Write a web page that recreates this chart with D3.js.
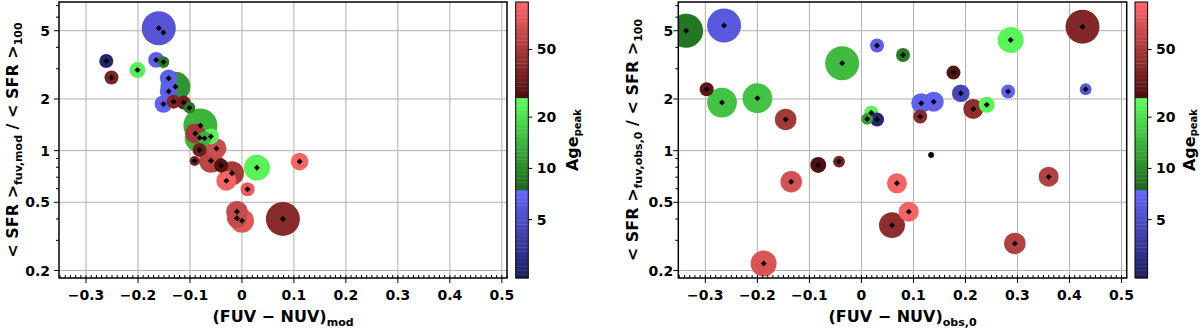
<!DOCTYPE html>
<html>
<head>
<meta charset="utf-8">
<script src="https://cdn.jsdelivr.net/npm/d3@7"></script>
<style>
  body { margin: 0; background: #fff; }
  text { font-family: "DejaVu Sans", sans-serif; font-weight: bold; }
</style>
</head>
<body>
<div id="chart"></div>
<script>
// left panel: model colour vs model SFR ratio
var modColour = [-0.160, -0.151, -0.261, -0.201, -0.251, -0.165, -0.151, -0.128, -0.141, -0.141, -0.151, -0.1315, -0.112, -0.101, -0.080, -0.0815, -0.0898, -0.072, -0.0596, -0.0815, -0.049, -0.091, -0.0596, -0.040, -0.0192, -0.030, 0.0288, 0.111, 0.0108, -0.0096, -0.0096, 0.0, 0.0788];
var modRatio  = [5.17, 4.88, 3.33, 2.95, 2.67, 3.38, 3.28, 2.36, 2.64, 2.21, 1.87, 1.93, 1.905, 1.78, 1.40, 1.19, 1.26, 1.18, 1.21, 1.01, 1.03, 0.871, 0.874, 0.818, 0.738, 0.668, 0.796, 0.863, 0.596, 0.441, 0.404, 0.39, 0.40];
var modMass   = [300, 51, 51, 66, 51, 66, 36, 230, 81, 81, 81, 51, 51, 36, 300, 230, 104, 51, 66, 51, 104, 26, 150, 51, 150, 104, 175, 81, 51, 120, 104, 150, 300];
var modAge    = [5.6, 5.6, 2.6, 23, 36, 6.5, 9, 11, 6.5, 6.5, 6.8, 38, 34, 9, 14, 14, 48, 14, 24, 33, 65, 36, 58, 28, 50, 88, 24, 90, 80, 62, 62, 75, 40];

// right panel: observed colour vs observed SFR ratio
var obsColour = [-0.337, -0.264, -0.037, 0.030, -0.2975, -0.268, -0.200, -0.1456, 0.019, 0.011, 0.030, -0.083, -0.043, -0.135, 0.0588, 0.0683, -0.188, 0.425, 0.287, 0.080, 0.177, 0.191, 0.282, 0.431, 0.115, 0.139, 0.215, 0.241, 0.113, 0.134, 0.360, 0.091, 0.295];
var obsRatio  = [5.0, 5.36, 3.23, 4.1, 2.28, 1.905, 2.02, 1.52, 1.665, 1.53, 1.52, 0.825, 0.863, 0.659, 0.368, 0.645, 0.22, 5.28, 4.42, 3.61, 2.85, 2.16, 2.21, 2.28, 1.89, 1.93, 1.75, 1.85, 1.58, 0.944, 0.705, 0.441, 0.288];
var obsMass   = [300, 300, 300, 51, 51, 230, 230, 120, 51, 36, 51, 66, 36, 120, 175, 104, 175, 300, 175, 51, 51, 81, 51, 36, 104, 104, 104, 66, 51, 9, 104, 104, 120];
var obsAge    = [8.6, 6, 15, 6.5, 30, 16, 16, 48, 24, 12, 2.6, 27, 35, 70, 42, 90, 72, 38, 24, 9, 28, 4.5, 6.8, 6, 6.8, 6.8, 42, 24, 40, 27, 55, 90, 55];

var xTicks = [-0.3, -0.2, -0.1, 0, 0.1, 0.2, 0.3, 0.4, 0.5];
var yTicks = [0.2, 0.5, 1, 2, 5];
var yMinor = [0.3, 0.4, 0.6, 0.7, 0.8, 0.9, 3, 4, 6, 7];
var ageTicks = [5, 10, 20, 50];

var ageSegments = [
    {lo: 2.27, hi: 7.6, dark: "#1c1c5e", light: "#6868ff"},
    {lo: 7.6, hi: 26, dark: "#1d681d", light: "#5cff5c"},
    {lo: 26, hi: 95, dark: "#4e0c0c", light: "#ff6868"}
];

function ageColour(a) {
    for (var i = 0; i < ageSegments.length; i++) {
        var s = ageSegments[i];
        if (a <= s.hi || i == ageSegments.length - 1) {
            var t = Math.log(a / s.lo) / Math.log(s.hi / s.lo);
            t = Math.max(0, Math.min(1, t));
            return d3.interpolateRgb(s.dark, s.light)(t);
        }
    }
}

var svg = d3.select("#chart").append("svg")
    .attr("width", 1200)
    .attr("height", 329);

var rScale = d3.scaleSqrt().domain([0, 300]).range([0, 17]);

function panel(opt) {
    var x = d3.scaleLinear().domain([-0.352, 0.51]).range([opt.left, opt.right]);
    var y = d3.scaleLog().domain([0.181, 7.35]).range([278, 2]);
    var g = svg.append("g");

    g.append("clipPath").attr("id", opt.id)
        .append("rect")
        .attr("x", opt.left).attr("y", 2)
        .attr("width", opt.right - opt.left).attr("height", 276);

    // grid
    g.selectAll(".gx").data(xTicks).enter().append("line")
        .attr("x1", function(d) { return x(d); }).attr("x2", function(d) { return x(d); })
        .attr("y1", 2).attr("y2", 278)
        .attr("stroke", "#b0b0b0").attr("stroke-width", 1);
    g.selectAll(".gy").data(yTicks).enter().append("line")
        .attr("x1", opt.left).attr("x2", opt.right)
        .attr("y1", function(d) { return y(d); }).attr("y2", function(d) { return y(d); })
        .attr("stroke", "#b0b0b0").attr("stroke-width", 1);

    var pts = opt.xs.map(function(v, i) {
        return {x: v, y: opt.ys[i], m: opt.mass[i], a: opt.age[i]};
    });
    var sorted = pts.slice().sort(function(a, b) { return b.m - a.m; });

    var clipped = g.append("g").attr("clip-path", "url(#" + opt.id + ")");
    clipped.selectAll("circle").data(sorted).enter().append("circle")
        .attr("cx", function(d) { return x(d.x); })
        .attr("cy", function(d) { return y(d.y); })
        .attr("r", function(d) { return rScale(d.m); })
        .attr("fill", function(d) { return ageColour(d.a); });

    clipped.selectAll("path").data(pts).enter().append("path")
        .attr("d", d3.symbol(d3.symbolSquare).size(18))
        .attr("transform", function(d) { return "translate(" + x(d.x) + "," + y(d.y) + ") rotate(45)"; })
        .attr("fill", "#000");

    // minor x ticks (inward)
    var xMinor = d3.range(-35, 52).map(function(k) { return k / 100; });
    g.selectAll(".mx").data(xMinor).enter().append("line")
        .attr("x1", function(d) { return x(d); }).attr("x2", function(d) { return x(d); })
        .attr("y1", 278).attr("y2", 275)
        .attr("stroke", "#000").attr("stroke-width", 1);
    g.selectAll(".mjx").data(xTicks).enter().append("line")
        .attr("x1", function(d) { return x(d); }).attr("x2", function(d) { return x(d); })
        .attr("y1", 278).attr("y2", 283)
        .attr("stroke", "#000").attr("stroke-width", 1);

    // y ticks (outward)
    g.selectAll(".my").data(yMinor).enter().append("line")
        .attr("x1", opt.left - 3).attr("x2", opt.left)
        .attr("y1", function(d) { return y(d); }).attr("y2", function(d) { return y(d); })
        .attr("stroke", "#000").attr("stroke-width", 1);
    g.selectAll(".mjy").data(yTicks).enter().append("line")
        .attr("x1", opt.left - 5).attr("x2", opt.left)
        .attr("y1", function(d) { return y(d); }).attr("y2", function(d) { return y(d); })
        .attr("stroke", "#000").attr("stroke-width", 1);

    // frame
    g.append("rect")
        .attr("x", opt.left).attr("y", 2)
        .attr("width", opt.right - opt.left).attr("height", 276)
        .attr("fill", "none").attr("stroke", "#000").attr("stroke-width", 1.5);

    // tick labels
    g.selectAll(".tx").data(xTicks).enter().append("text")
        .attr("x", function(d) { return x(d); })
        .attr("y", 300)
        .attr("text-anchor", "middle")
        .style("font-size", "14px")
        .text(function(d) { return d == 0 ? "0" : (d < 0 ? "\u2212" : "") + Math.abs(d).toFixed(1); });
    g.selectAll(".ty").data(yTicks).enter().append("text")
        .attr("x", opt.left - opt.labelGap)
        .attr("y", function(d) { return y(d) + 5; })
        .attr("text-anchor", "end")
        .style("font-size", "14px")
        .text(function(d) { return d; });

    // x label
    var xl = g.append("text")
        .attr("x", (opt.left + opt.right) / 2)
        .attr("y", 322)
        .attr("text-anchor", "middle")
        .style("font-size", "16px");
    xl.append("tspan").text("(FUV \u2212 NUV)");
    xl.append("tspan").attr("dy", 4).style("font-size", "11px").text(opt.xsub);

    // y label
    var yl = g.append("text")
        .attr("transform", "translate(" + opt.ylabelX + ",140) rotate(-90)")
        .attr("text-anchor", "middle")
        .style("font-size", "16px");
    yl.append("tspan").text("< SFR >");
    yl.append("tspan").attr("dy", 4).style("font-size", "11px").text(opt.ysub);
    yl.append("tspan").attr("dy", -4).text(" / < SFR >");
    yl.append("tspan").attr("dy", 4).style("font-size", "11px").text("100");

    // colour bar
    var c = d3.scaleLog().domain([2.27, 95]).range([278, 2]);
    var bands = d3.range(0, 72).map(function(k) {
        var lo = 2.27 * Math.pow(95 / 2.27, k / 72);
        var hi = 2.27 * Math.pow(95 / 2.27, (k + 1) / 72);
        return {lo: lo, hi: hi};
    });
    g.selectAll(".band").data(bands).enter().append("rect")
        .attr("x", opt.cbLeft).attr("width", 12.6)
        .attr("y", function(d) { return c(d.hi); })
        .attr("height", function(d) { return c(d.lo) - c(d.hi) + 0.3; })
        .attr("fill", function(d) { return ageColour(Math.sqrt(d.lo * d.hi)); });
    g.append("rect")
        .attr("x", opt.cbLeft).attr("y", 2)
        .attr("width", 12.6).attr("height", 276)
        .attr("fill", "none").attr("stroke", "#000").attr("stroke-width", 1);
    g.selectAll(".cbt").data(ageTicks).enter().append("line")
        .attr("x1", opt.cbLeft + 12.6).attr("x2", opt.cbLeft + 16.6)
        .attr("y1", function(d) { return c(d); }).attr("y2", function(d) { return c(d); })
        .attr("stroke", "#000");
    g.selectAll(".cbl").data(ageTicks).enter().append("text")
        .attr("x", opt.cbLeft + 21)
        .attr("y", function(d) { return c(d) + 5; })
        .style("font-size", "14px")
        .text(function(d) { return d; });
    var al = g.append("text")
        .attr("transform", "translate(" + opt.ageX + ",140) rotate(-90)")
        .attr("text-anchor", "middle")
        .style("font-size", "16px");
    al.append("tspan").text("Age");
    al.append("tspan").attr("dy", 2.5).style("font-size", "10px").text("peak");
}

panel({id: "clipL", left: 59, right: 507, xs: modColour, ys: modRatio, mass: modMass, age: modAge,
       xsub: "mod", ysub: "fuv,mod", ylabelX: 18, labelGap: 9, cbLeft: 515.7, ageX: 578});
panel({id: "clipR", left: 678.3, right: 1126.7, xs: obsColour, ys: obsRatio, mass: obsMass, age: obsAge,
       xsub: "obs,0", ysub: "fuv,obs,0", ylabelX: 638, labelGap: 5, cbLeft: 1135, ageX: 1194.5});
</script>
</body>
</html>
